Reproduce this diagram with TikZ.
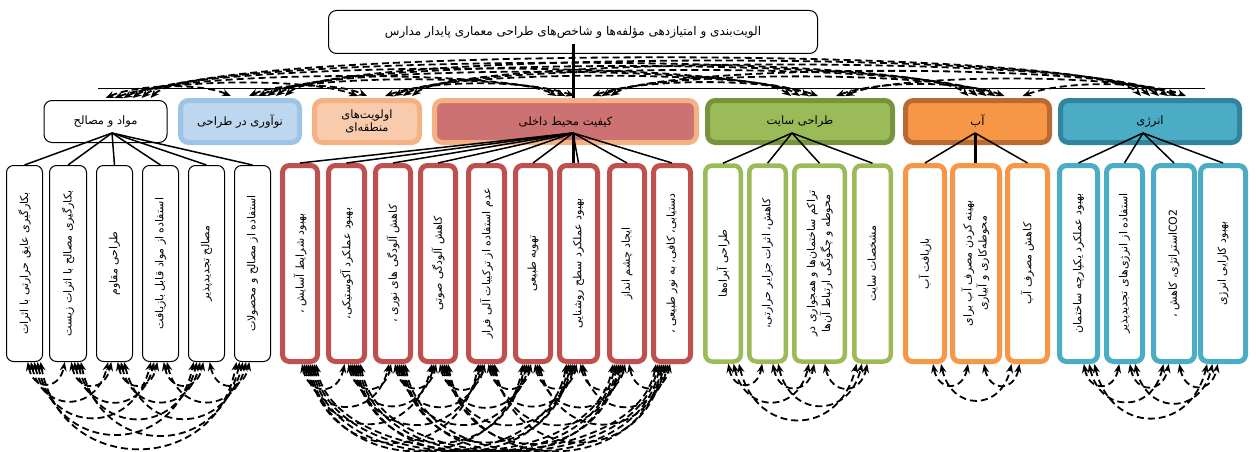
\documentclass[tikz,border=0pt]{standalone}
\usepackage{fontspec}
\usepackage{graphicx}
\usetikzlibrary{arrows.meta,calc}
\TeXXeTstate=1
\newfontfamily\fa[Script=Arabic]{DejaVu Sans}
\newcommand{\rtl}[1]{\beginR #1\endR}
\definecolor{cblueF}{HTML}{BDD7EE}
\definecolor{cblueD}{HTML}{9DC3E6}
\definecolor{peachF}{HTML}{F8CBAD}
\definecolor{peachD}{HTML}{F4B183}
\definecolor{redF}{HTML}{CC7272}
\definecolor{greenF}{HTML}{9BBB59}
\definecolor{greenD}{HTML}{77933C}
\definecolor{orangeF}{HTML}{F79646}
\definecolor{orangeD}{HTML}{B96A30}
\definecolor{teal}{HTML}{4BACC6}
\definecolor{tealD}{HTML}{31849B}
\definecolor{kred}{HTML}{C0504D}
\newcommand{\mykid}[5]{\node[kidbox,#2,minimum width=#4pt] (#1) at (#3,263.5) {\rotatebox{90}{#5}};}
\begin{document}
\begin{tikzpicture}[x=1pt,y=-1pt,
  rootbox/.style={draw=black,line width=1pt,fill=white,rounded corners=8pt,minimum width=489pt,minimum height=43pt,font=\fa\fontsize{12}{14}\selectfont},
  catbox/.style={rounded corners=8pt,line width=5pt,minimum height=42pt,align=center,inner sep=2pt,font=\fa\fontsize{11.5}{14}\selectfont},
  kidbox/.style={fill=white,rounded corners=7pt,minimum height=196pt,inner sep=1pt,font=\fa\fontsize{11}{15}\selectfont},
  kw/.style={draw=black,line width=1pt},
  kr/.style={draw=kred,line width=5pt},
  kg/.style={draw=greenF,line width=4.5pt},
  ko/.style={draw=orangeF,line width=5pt},
  kb/.style={draw=teal,line width=5pt},
  tedge/.style={draw=black,line width=1.5pt},
  darr/.style={draw=black,line width=1.8pt,dash pattern=on 7pt off 4pt,<->,>={Stealth[length=9pt,width=7pt]}}
]
\useasboundingbox (0,0) rectangle (1256,452);

% root
\node[rootbox] (root) at (573,32) {\rtl{الویت‌بندی و امتیازدهی مؤلفه‌ها و شاخص‌های طراحی معماری پایدار مدارس}};

% categories
\node[catbox,draw=black,line width=1pt,fill=white,minimum width=123pt] (c1) at (105.5,121.5) {\rtl{مواد و مصالح}};
\node[catbox,draw=cblueD,fill=cblueF,minimum width=119pt] (c2) at (240,121.5) {\rtl{نوآوری در طراحی}};
\node[catbox,draw=peachD,fill=peachF,minimum width=105pt,font=\fa\fontsize{11.5}{13}\selectfont] (c3) at (367,121.5) {\rtl{اولویت‌های}\\\rtl{منطقه‌ای}};
\node[catbox,draw=peachD,fill=redF,minimum width=262pt] (c4) at (565.5,121.5) {\rtl{کیفیت محیط داخلی}};
\node[catbox,draw=greenD,fill=greenF,minimum width=185pt] (c5) at (800,121.5) {\rtl{طراحی سایت}};
\node[catbox,draw=orangeD,fill=orangeF,minimum width=144pt] (c6) at (977.5,121.5) {\rtl{آب}};
\node[catbox,draw=tealD,fill=teal,minimum width=179pt] (c7) at (1150,121.5) {\rtl{انرژی}};

% children group 1
\mykid{g1k1}{kw}{24.5}{36}{\rtl{بکارگیری عایق حرارتی با اثرات}}
\mykid{g1k2}{kw}{68}{37}{\rtl{بکارگیری مصالح با اثرات زیست}}
\mykid{g1k3}{kw}{114.5}{36}{\rtl{طراحی مقاوم}}
\mykid{g1k4}{kw}{160.5}{36}{\rtl{استفاده از مواد قابل بازیافت}}
\mykid{g1k5}{kw}{206.5}{36}{\rtl{مصالح تجدیدپذیر}}
\mykid{g1k6}{kw}{252.5}{36}{\rtl{استفاده از مصالح و محصولات}}
% group 2
\mykid{g2k1}{kr}{300}{35}{\rtl{بهبود شرایط آسایش ،}}
\mykid{g2k2}{kr}{346.5}{36}{\rtl{بهبود عملکرد آکوستیکی،}}
\mykid{g2k3}{kr}{393}{35}{\rtl{کاهش آلودگی های نوری ،}}
\mykid{g2k4}{kr}{438}{35}{\rtl{کاهش آلودگی صوتی}}
\mykid{g2k5}{kr}{486.5}{36}{\rtl{عدم استفاده از ترکیبات آلی فرار}}
\mykid{g2k6}{kr}{533}{35}{\rtl{تهویه طبیعی}}
\mykid{g2k7}{kr}{578.5}{38}{\rtl{بهبود عملکرد سطح روشنایی}}
\mykid{g2k8}{kr}{627}{35}{\rtl{ایجاد چشم انداز}}
\mykid{g2k9}{kr}{672}{37}{\rtl{دستیابی، کافی، به نور طبیعی ،}}
% group 3
\mykid{g3k1}{kg}{723}{35.5}{\rtl{طراحی آبراه‌ها}}
\mykid{g3k2}{kg}{767.5}{36.5}{\rtl{کاهش، اثرات جزایر حرارتی،}}
\mykid{g3k3}{kg}{819.5}{50.5}{\begin{tabular}{@{}c@{}}\beginR تراکم ساختمان‌ها و همجواری در\endR\\\beginR محوطه و چگونگی ارتباط آن‌ها\endR\end{tabular}}
\mykid{g3k4}{kg}{872.5}{36.5}{\rtl{مشخصات سایت}}
% group 4
\mykid{g4k1}{ko}{925}{39}{\rtl{بازیافت آب}}
\mykid{g4k2}{ko}{976}{47}{\begin{tabular}{@{}c@{}}\beginR بهینه کردن مصرف آب برای\endR\\\beginR محوطه‌کاری و آبیاری\endR\end{tabular}}
\mykid{g4k3}{ko}{1027.5}{40}{\rtl{کاهش مصرف آب}}
% group 5
\mykid{g5k1}{kb}{1078.5}{38}{\rtl{بهبود عملکرد یکپارچه ساختمان}}
\mykid{g5k2}{kb}{1124.5}{36}{\rtl{استفاده از انرژی‌های تجدیدپذیر}}
\mykid{g5k3}{kb}{1174}{41}{\rtl{\beginL CO2\endL{}استراتژی، کاهش ،}}
\mykid{g5k4}{kb}{1223}{45}{\rtl{بهبود کارایی انرژی}}

% root connections
\coordinate (rootbar) at ([yshift=-12pt]root.center);
\draw[line width=3pt] (rootbar) -- (rootbar |- c4.north);
\coordinate (barL) at (98,89);
\coordinate (barR) at (1205,89);
\draw[line width=1pt] (barL) -- (barR);

% tree edges
\coordinate (o1) at (112,133);
\coordinate (o2) at (573,133);
\coordinate (o3) at (792,133);
\coordinate (o4) at (975,133);
\coordinate (o5) at (1143,133);
\foreach \ii in {1,...,6} {\draw[tedge] (o1) -- (g1k\ii.north);}
\foreach \ii in {1,...,9} {\draw[tedge] (o2) -- (g2k\ii.north);}
\draw[tedge,line width=3pt] (o2) -- (o2 |- g2k7.north);
\foreach \ii in {1,...,4} {\draw[tedge] (o3) -- (g3k\ii.north);}
\foreach \ii in {1,...,3} {\draw[tedge] (o4) -- (g4k\ii.north);}
\draw[tedge,line width=3pt] (o4) -- (o4 |- g4k2.north);
\foreach \ii in {1,...,4} {\draw[tedge] (o5) -- (g5k\ii.north);}

% dashed arcs between categories (above)
\foreach \ii in {1,...,7} {
  \foreach \jj in {1,...,7} {
    \ifnum\jj>\ii
      \draw[darr] let \p1=([xshift={((\jj-4)*9+18)*1pt},yshift=2pt]c\ii.north),
                      \p2=([xshift={((\ii-4)*9+18)*1pt},yshift=2pt]c\jj.north),
                      \n1={scalar(abs(\x2-\x1))},
                      \n2={(6+0.033*\n1)/0.75},
                      \n3={min(0.25*\n1,50)} in
        (\p1) .. controls +(\n3,-\n2) and +(-\n3,-\n2) .. (\p2);
    \fi
  }
}

% dashed arcs between siblings (below)
\foreach \gg/\nn/\spc in {1/6/3.2,2/9/2,3/4/5.3,4/3/8,5/4/5.3} {
  \foreach \ii in {1,...,\nn} {
    \foreach \jj in {1,...,\nn} {
      \ifnum\jj>\ii
        \draw[darr] let \p1=([xshift={(\jj-\ii)*\spc*1pt}]g\gg k\ii.south),
                        \p2=([xshift={(\ii-\jj)*\spc*1pt}]g\gg k\jj.south),
                        \n1={scalar(abs(\x2-\x1))},
                        \n2={min(6+0.42*\n1,86)/0.75},
                        \n3={min(0.15*\n1,20)} in
          (\p1) .. controls +(\n3,\n2) and +(-\n3,\n2) .. (\p2);
      \fi
    }
  }
}
\end{tikzpicture}
\end{document}
